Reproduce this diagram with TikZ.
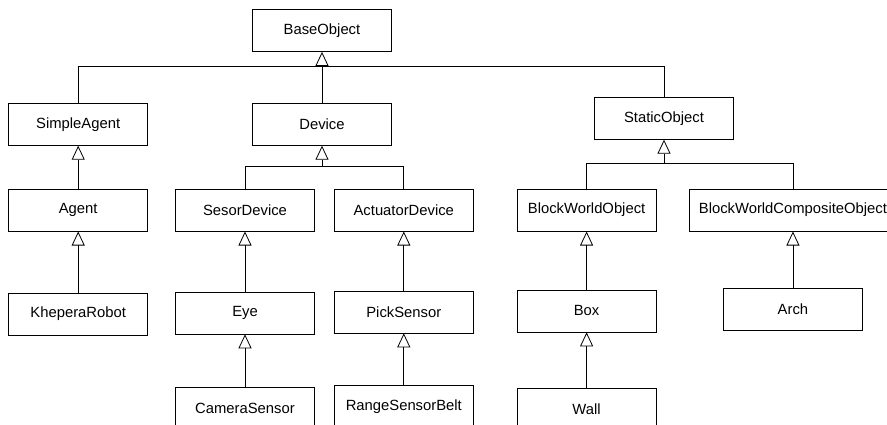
\documentclass[tikz,border=0pt]{standalone}
\usepackage{fontspec}
\setmainfont{Liberation Sans}
\usepackage{tikz}
\usetikzlibrary{arrows.meta,positioning,calc}

\begin{document}
\begin{tikzpicture}[
    classbox/.style={rectangle, draw, line width=0.8pt, align=center,
                     font=\fontsize{14.8pt}{17pt}\selectfont,
                     minimum width=139pt, minimum height=42pt, inner xsep=10pt},
    inherit/.style={-{Triangle[open, length=14pt, width=13pt]}, line width=0.8pt},
    link/.style={line width=0.8pt}
  ]
    \useasboundingbox (0,0) rectangle (887pt,-424pt);

    \node[classbox] (base) at (322pt,-30.5pt) {BaseObject};
    \node[classbox, below=51pt of base] (device) {Device};
    \node[classbox, left=104pt of device] (simpleagent) {SimpleAgent};
    \node[classbox, below=45pt of base, xshift=342pt] (staticobject) {StaticObject};

    \node[classbox, below=43pt of simpleagent] (agent) {Agent};
    \node[classbox, right=27pt of agent] (sensordevice) {SesorDevice};
    \node[classbox, right=19pt of sensordevice] (actuatordevice) {ActuatorDevice};
    \node[classbox, right=43pt of actuatordevice] (blockworld) {BlockWorldObject};
    \node[classbox, right=32pt of blockworld] (composite) {BlockWorldCompositeObject};

    \node[classbox, below=61pt of agent] (khepera) {KheperaRobot};
    \node[classbox, below=60pt of sensordevice] (eye) {Eye};
    \node[classbox, below=59pt of actuatordevice] (picksensor) {PickSensor};
    \node[classbox, below=58pt of blockworld] (box) {Box};
    \node[classbox, below=56pt of composite] (arch) {Arch};

    \node[classbox, below=53pt of eye] (camerasensor) {CameraSensor};
    \node[classbox, below=52pt of picksensor] (rangebelt) {RangeSensorBelt};
    \node[classbox, below=56pt of box] (wall) {Wall};

    % shared branches
    \coordinate (basebus) at ($(base.south)+(0,-14pt)$);
    \coordinate (devicebus) at ($(device.south)+(0,-21pt)$);
    \coordinate (staticbus) at ($(staticobject.south)+(0,-24pt)$);

    \draw[inherit] (basebus) -- (base);
    \draw[link] (simpleagent) |- (basebus) -| (staticobject);
    \draw[link] (device) -- (basebus);

    \draw[inherit] (devicebus) -- (device);
    \draw[link] (sensordevice) |- (devicebus) -| (actuatordevice);

    \draw[inherit] (staticbus) -- (staticobject);
    \draw[link] (blockworld) |- (staticbus) -| (composite);

    % single links
    \draw[inherit] (agent) -- (simpleagent);
    \draw[inherit] (khepera) -- (agent);
    \draw[inherit] (eye) -- (sensordevice);
    \draw[inherit] (camerasensor) -- (eye);
    \draw[inherit] (picksensor) -- (actuatordevice);
    \draw[inherit] (rangebelt) -- (picksensor);
    \draw[inherit] (box) -- (blockworld);
    \draw[inherit] (wall) -- (box);
    \draw[inherit] (arch) -- (composite);
\end{tikzpicture}
\end{document}
